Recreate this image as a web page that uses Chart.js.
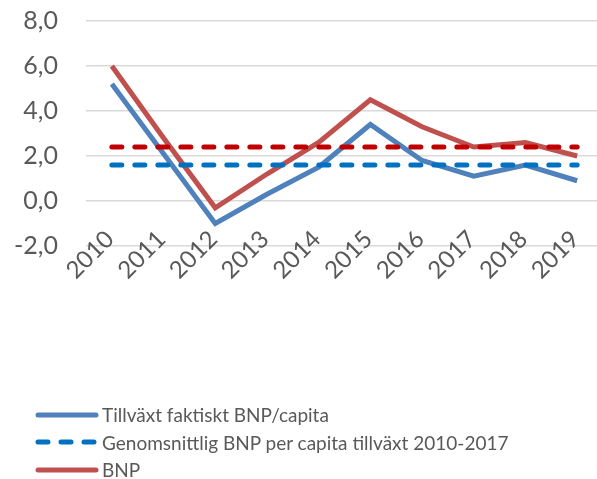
<!DOCTYPE html>
<html>
<head>
<meta charset="utf-8">
<script src="https://cdn.jsdelivr.net/npm/chart.js@4/dist/chart.umd.min.js"></script>
<style>
  html, body { margin: 0; padding: 0; background: #fff; overflow: hidden; }
  #wrap { position: relative; width: 610px; height: 300px; }
  #legend { position: absolute; left: 35px; top: 401px; font-family: Lato, sans-serif; font-size: 19px; color: #595959; }
  .item { height: 27.5px; display: flex; align-items: center; white-space: nowrap; }
  .item canvas { margin-right: 3px; }
</style>
</head>
<body>
<div id="wrap"><canvas id="chart" width="610" height="300"></canvas></div>
<div id="legend"></div>
<script>
// data
const years = ['2010', '2011', '2012', '2013', '2014', '2015', '2016', '2017', '2018', '2019'];
const tillvaxtPerCapita = [5.2, 2.1, -1.0, 0.3, 1.5, 3.4, 1.8, 1.1, 1.6, 0.9];
const snittPerCapita = [1.6, 1.6, 1.6, 1.6, 1.6, 1.6, 1.6, 1.6, 1.6, 1.6];
const bnp = [6.0, 2.8, -0.3, 1.2, 2.6, 4.5, 3.3, 2.4, 2.6, 2.0];
const snittBnp = [2.4, 2.4, 2.4, 2.4, 2.4, 2.4, 2.4, 2.4, 2.4, 2.4];
const yTicks = [-2, 0, 2, 4, 6, 8];

const textColor = '#595959';
const gridColor = '#d9d9d9';

const ctx = document.getElementById('chart');

const chart = new Chart(ctx, {
    type: 'line',
    data: {
        labels: years,
        datasets: [{
            label: 'Tillväxt faktiskt BNP/capita',
            data: tillvaxtPerCapita,
            borderColor: '#4f81bd',
            borderWidth: 5,
            order: 2
        }, {
            label: 'Genomsnittlig BNP per capita tillväxt 2010-2017',
            data: snittPerCapita,
            borderColor: '#0070c0',
            borderWidth: 5,
            borderDash: [10, 13],
            borderCapStyle: 'round',
            order: 0
        }, {
            label: 'BNP',
            data: bnp,
            borderColor: '#c0504d',
            borderWidth: 5,
            order: 1
        }, {
            label: '',
            data: snittBnp,
            borderColor: '#c00000',
            borderWidth: 5,
            borderDash: [10, 13],
            borderCapStyle: 'round',
            order: 0,
            hideInLegend: true
        }]
    },
    options: {
        responsive: false,
        animation: false,
        events: [],
        elements: {
            point: { radius: 0 },
            line: { tension: 0, borderJoinStyle: 'miter' }
        },
        layout: { padding: { top: 21, right: 7, left: 0, bottom: 0 } },
        plugins: {
            legend: { display: false },
            tooltip: { enabled: false }
        },
        scales: {
            x: {
                offset: true,
                grid: { display: false },
                border: { display: false },
                ticks: {
                    autoSkip: false,
                    maxRotation: 45,
                    minRotation: 45,
                    padding: -29,
                    labelOffset: -2,
                    color: textColor,
                    font: { family: 'Lato', size: 24 }
                },
                afterFit: (scale) => {
                    scale.height = 54;
                    scale.paddingTop = 0;
                    scale.paddingBottom = 0;
                    // labels sit slightly above the axis line, like Excel - don't clip them
                    scale._computeLabelArea = () => undefined;
                }
            },
            y: {
                min: -2,
                max: 8,
                afterBuildTicks: (scale) => { scale.ticks = yTicks.map(v => ({ value: v })); },
                grid: { color: gridColor, lineWidth: 1.5, drawTicks: false },
                border: { display: false },
                ticks: {
                    padding: 28,
                    color: textColor,
                    font: { family: 'Lato', size: 25 },
                    callback: (v) => v.toFixed(1).replace('.', ',')
                },
                afterFit: (scale) => {
                    scale.width = 86;
                    scale.paddingTop = 0;
                    scale.paddingBottom = 0;
                }
            }
        }
    }
});

// legend in the Excel layout, built from the chart datasets
const legendEl = document.getElementById('legend');
chart.data.datasets.forEach(ds => {
    if (ds.hideInLegend) return;
    const row = document.createElement('div');
    row.className = 'item';
    const c = document.createElement('canvas');
    c.width = 64; c.height = 10;
    const g = c.getContext('2d');
    g.strokeStyle = ds.borderColor;
    g.lineWidth = 5;
    g.lineCap = 'round';
    if (ds.borderDash) g.setLineDash(ds.borderDash);
    g.beginPath();
    g.moveTo(3, 5);
    g.lineTo(ds.borderDash ? 70 : 61, 5);
    g.stroke();
    row.appendChild(c);
    const t = document.createElement('span');
    t.textContent = ds.label;
    row.appendChild(t);
    legendEl.appendChild(row);
});
</script>
</body>
</html>
